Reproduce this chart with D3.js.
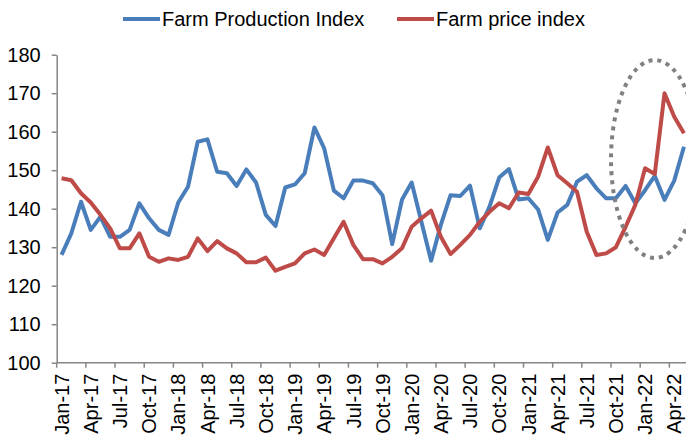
<!DOCTYPE html>
<html>
<head>
<meta charset="utf-8">
<script src="https://cdn.jsdelivr.net/npm/d3@7"></script>
<style>
  body { margin: 0; background: #fff; }
  svg { display: block; font-family: "Liberation Sans", Arial, sans-serif; }
  .axis path, .axis line { stroke: #868686; stroke-width: 1.5; }
  .axis text { fill: #000; font-size: 20px; }
</style>
</head>
<body>
<svg id="chart" width="686" height="439"></svg>
<script>
const monthNames = ['Jan', 'Feb', 'Mar', 'Apr', 'May', 'Jun', 'Jul', 'Aug', 'Sep', 'Oct', 'Nov', 'Dec'];

// Jan-17 .. May-22
const months = [];
for (let yr = 17; yr <= 22; yr++) {
  for (let m = 0; m < 12; m++) {
    if (yr === 22 && m > 4) break;
    months.push(`${monthNames[m]}-${yr}`);
  }
}

const production = [
  128.0, 133.6, 141.8, 134.5, 137.9, 132.7, 132.7, 134.5, 141.4, 137.5, 134.5, 133.2,
  141.6, 145.7, 157.4, 158.0, 149.6, 149.2, 145.9, 150.2, 146.8, 138.4, 135.5, 145.5,
  146.3, 149.2, 161.1, 155.7, 144.7, 142.7, 147.3, 147.3, 146.6, 143.5, 130.8, 142.3,
  146.8, 136.6, 126.5, 135.8, 143.5, 143.3, 146.0, 134.9, 140.5, 148.1, 150.3, 142.4,
  142.7, 139.8, 131.9, 139.0, 141.0, 147.0, 148.7, 145.3, 142.7, 142.7, 145.9, 141.4,
  144.8, 148.5, 142.3, 147.3, 156.1
];

const price = [
  147.9, 147.4, 144.0, 141.6, 138.4, 134.9, 129.7, 129.7, 133.6, 127.5, 126.2, 127.1,
  126.7, 127.5, 132.3, 129.0, 131.6, 129.7, 128.4, 126.1, 126.1, 127.3, 123.9, 124.9,
  125.8, 128.4, 129.4, 128.0, 132.3, 136.6, 130.6, 126.9, 126.9, 125.8, 127.5, 129.7,
  135.3, 137.5, 139.5, 132.7, 128.2, 130.6, 133.2, 136.6, 139.2, 141.4, 140.1, 144.2,
  143.8, 148.3, 155.9, 148.7, 146.6, 144.4, 134.0, 128.0, 128.4, 130.0, 135.3, 141.0,
  150.5, 149.0, 170.0, 163.9, 159.6
];

const seriesNames = ['Farm Production Index', 'Farm price index'];
const seriesColors = ['#4A7EBB', '#BE4B48'];
const yTicks = [100, 110, 120, 130, 140, 150, 160, 170, 180];

const svg = d3.select('#chart');

const x = d3.scaleBand()
  .domain(months)
  .range([56.7, 56.7 + months.length * 9.725])
  .padding(0);
const bw = x.bandwidth();

const y = d3.scaleLinear()
  .domain([100, 180])
  .range([362.7, 54.7]);

// x axis: ticks between categories, labels on category centres
const xAxis = svg.append('g')
  .attr('class', 'axis x')
  .attr('transform', `translate(0, ${y(100)})`)
  .call(d3.axisBottom(x)
    .tickValues(months.filter((d, i) => i % 3 === 0))
    .tickSize(5)
    .tickSizeOuter(0));

xAxis.select('.domain').attr('d', `M${x.range()[0]},0H686`);
xAxis.selectAll('.tick line').attr('x1', -bw / 2).attr('x2', -bw / 2);
xAxis.selectAll('.tick text')
  .attr('transform', 'rotate(-90)')
  .attr('text-anchor', 'end')
  .attr('x', -11)
  .attr('y', 0)
  .attr('dy', '0.36em');

// y axis
svg.append('g')
  .attr('class', 'axis y')
  .attr('transform', `translate(${x.range()[0]}, 0)`)
  .call(d3.axisLeft(y)
    .tickValues(yTicks)
    .tickSize(5)
    .tickSizeOuter(0)
    .tickPadding(11));

// lines
const line = d3.line()
  .x((d, i) => x(months[i]) + bw / 2)
  .y(d => y(d));

[production, price].forEach((s, k) => {
  svg.append('path')
    .datum(s)
    .attr('fill', 'none')
    .attr('stroke', seriesColors[k])
    .attr('stroke-width', 4)
    .attr('stroke-linejoin', 'round')
    .attr('d', line);
});

// dotted ellipse around the 2022 spike
svg.append('ellipse')
  .attr('cx', x('Feb-22') + bw / 2)
  .attr('cy', y(152.9))
  .attr('rx', bw * 4.5)
  .attr('ry', y(127.2) - y(152.9))
  .attr('fill', 'none')
  .attr('stroke', '#808080')
  .attr('stroke-width', 4)
  .attr('stroke-dasharray', '4 5');

// legend
const legendX = [123, 397];
const legend = svg.append('g').attr('class', 'legend');
seriesNames.forEach((name, k) => {
  legend.append('line')
    .attr('x1', legendX[k]).attr('x2', legendX[k] + 37)
    .attr('y1', 19).attr('y2', 19)
    .attr('stroke', seriesColors[k])
    .attr('stroke-width', 4);
  legend.append('text')
    .attr('x', legendX[k] + 39)
    .attr('y', 19)
    .attr('dy', '0.36em')
    .attr('font-size', 20)
    .attr('fill', '#000')
    .text(name);
});
</script>
</body>
</html>
